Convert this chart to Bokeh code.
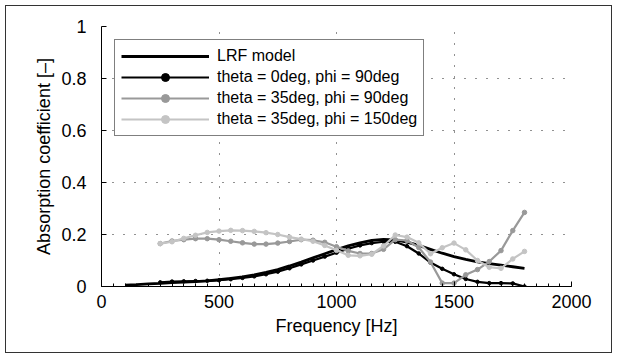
from bokeh.plotting import figure
from bokeh.models import Range1d, FixedTicker, Legend, LegendItem
from bokeh.embed import file_html
from bokeh.resources import INLINE

# ---- data ----
freq_lrf = [100, 150, 200, 250, 300, 350, 400, 450, 500, 550, 600, 650, 700, 750,
            800, 850, 900, 950, 1000, 1050, 1100, 1150, 1200, 1250, 1300, 1350,
            1400, 1450, 1500, 1550, 1600, 1650, 1700, 1750, 1800]
lrf_model = [0.005, 0.007, 0.010, 0.012, 0.015, 0.017, 0.019, 0.022, 0.026, 0.031,
             0.037, 0.045, 0.054, 0.065, 0.079, 0.094, 0.110, 0.126, 0.142, 0.156,
             0.168, 0.177, 0.181, 0.179, 0.171, 0.158, 0.143, 0.128, 0.115, 0.104,
             0.095, 0.088, 0.082, 0.076, 0.070]

freq_meas = [250, 300, 350, 400, 450, 500, 550, 600, 650, 700, 750, 800, 850, 900,
             950, 1000, 1050, 1100, 1150, 1200, 1250, 1300, 1350, 1400, 1450, 1500,
             1550, 1600, 1650, 1700, 1750, 1800]
theta0_phi90 = [0.016, 0.019, 0.020, 0.021, 0.022, 0.024, 0.028, 0.033, 0.039, 0.047,
                0.057, 0.070, 0.085, 0.100, 0.115, 0.130, 0.145, 0.158, 0.167, 0.172,
                0.172, 0.155, 0.127, 0.092, 0.068, 0.047, 0.029, 0.018, 0.013, 0.013,
                0.012, 0.000]
theta35_phi90 = [0.165, 0.175, 0.180, 0.184, 0.184, 0.180, 0.174, 0.168, 0.163, 0.163,
                 0.167, 0.173, 0.180, 0.178, 0.170, 0.153, 0.137, 0.127, 0.127, 0.143,
                 0.180, 0.177, 0.150, 0.094, 0.013, 0.013, 0.045, 0.065, 0.096, 0.138,
                 0.215, 0.285]
theta35_phi150 = [0.165, 0.172, 0.185, 0.197, 0.208, 0.213, 0.216, 0.215, 0.212, 0.207,
                  0.200, 0.190, 0.182, 0.174, 0.158, 0.139, 0.120, 0.118, 0.124, 0.156,
                  0.198, 0.190, 0.168, 0.126, 0.149, 0.167, 0.141, 0.100, 0.074, 0.070,
                  0.106, 0.135]

labels = ["LRF model", "theta = 0deg, phi = 90deg",
          "theta = 35deg, phi = 90deg", "theta = 35deg, phi = 150deg"]
x_ticks = [0, 500, 1000, 1500, 2000]
y_ticks = [0, 0.2, 0.4, 0.6, 0.8, 1]

FONT = "Liberation Sans"
BLACK = "#000000"
MID = "#999999"
LIGHT = "#c4c4c4"

p = figure(width=605, height=346, output_backend="svg", toolbar_location=None,
           x_range=Range1d(0, 2000), y_range=Range1d(0, 1),
           min_border_left=95, min_border_right=40, min_border_top=20,
           min_border_bottom=66, margin=(6, 6, 4, 6),
           styles={"outline": "1px solid #333333"})
p.outline_line_color = None
p.background_fill_color = "white"
p.border_fill_color = "white"

# axes
p.xaxis.ticker = FixedTicker(ticks=x_ticks, minor_ticks=list(range(0, 2001, 50)))
p.yaxis.ticker = FixedTicker(ticks=y_ticks)
p.yaxis.major_label_overrides = {0: "0", 1: "1"}
for ax in (p.xaxis, p.yaxis):
    ax.major_label_text_font = FONT
    ax.major_label_text_font_size = "18px"
    ax.major_label_text_color = "black"
    ax.axis_label_text_font = FONT
    ax.axis_label_text_font_size = "18px"
    ax.axis_label_text_font_style = "normal"
    ax.axis_label_text_color = "black"
    ax.axis_line_color = "black"
    ax.axis_line_width = 1
    ax.major_tick_in = 5
    ax.major_tick_out = 0
    ax.major_tick_line_color = "black"
    ax.minor_tick_in = 3
    ax.minor_tick_out = 0
    ax.minor_tick_line_color = "black"
p.yaxis.minor_tick_line_color = None
p.xaxis.axis_label = "Frequency [Hz]"
p.yaxis.axis_label = "Absorption coefficient [\u2013]"
p.xaxis.major_label_standoff = 8
p.xaxis.axis_label_standoff = 5
p.yaxis.major_label_standoff = 15
p.yaxis.axis_label_standoff = 4

for g in (p.xgrid, p.ygrid):
    g.grid_line_color = "#222222"
    g.grid_line_dash = "1 10"
    g.grid_line_width = 1

# series
r0 = p.line(freq_lrf, lrf_model, line_color=BLACK, line_width=2.8)
r1 = p.line(freq_meas, theta0_phi90, line_color=BLACK, line_width=2.2)
s1 = p.scatter(freq_meas, theta0_phi90, size=3.5, marker="circle",
               fill_color=BLACK, line_color=BLACK)
r2 = p.line(freq_meas, theta35_phi90, line_color=MID, line_width=2.2)
s2 = p.scatter(freq_meas, theta35_phi90, size=4.5, marker="circle",
               fill_color=MID, line_color=MID)
r3 = p.line(freq_meas, theta35_phi150, line_color=LIGHT, line_width=2.2)
s3 = p.scatter(freq_meas, theta35_phi150, size=4.5, marker="circle",
               fill_color=LIGHT, line_color=LIGHT)

legend = Legend(items=[
    LegendItem(label=labels[0], renderers=[r0]),
    LegendItem(label=labels[1], renderers=[r1, s1]),
    LegendItem(label=labels[2], renderers=[r2, s2]),
    LegendItem(label=labels[3], renderers=[r3, s3]),
], location="top_left")
legend.margin = 13
legend.padding = 6
legend.spacing = 1
legend.label_height = 20
legend.glyph_height = 20
legend.glyph_width = 88
legend.label_standoff = 8
legend.label_text_font = FONT
legend.label_text_font_size = "16px"
legend.label_text_color = "black"
legend.border_line_color = "black"
legend.border_line_width = 1
legend.background_fill_color = "white"
legend.background_fill_alpha = 1
p.add_layout(legend, "center")

open("out.html", "w").write(file_html(p, INLINE))
